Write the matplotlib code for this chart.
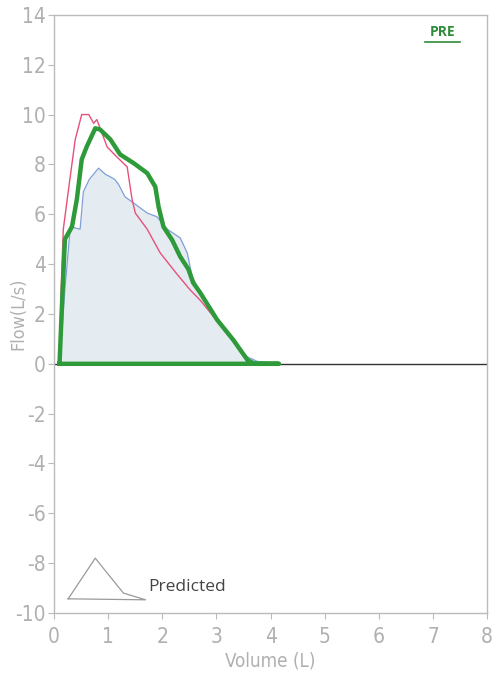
import matplotlib
matplotlib.use("Agg")
import matplotlib.pyplot as plt

plt.rcParams['axes.unicode_minus'] = False

# Predicted (blue thin, filled)
pred_vol  = [0.10, 0.20, 0.30, 0.48, 0.54, 0.65, 0.82, 0.95, 1.04, 1.12, 1.19, 1.31, 1.47, 1.72, 1.90, 2.09, 2.33, 2.46, 2.55, 2.70, 3.00, 3.30, 3.55, 3.75, 3.95, 4.10]
pred_flow = [0.00, 3.00, 5.50, 5.40, 6.90, 7.40, 7.85, 7.60, 7.50, 7.40, 7.20, 6.70, 6.45, 6.05, 5.90, 5.40, 5.05, 4.45, 3.50, 2.85, 1.80, 0.95, 0.30, 0.10, 0.05, 0.00]

# Trial 1 (pink/red thin)
red_vol  = [0.10, 0.13, 0.17, 0.26, 0.39, 0.51, 0.64, 0.73, 0.79, 0.98, 1.16, 1.35, 1.44, 1.50, 1.72, 1.96, 2.27, 2.52, 2.70, 3.00, 3.30, 3.60]
red_flow = [0.00, 3.00, 5.40, 6.90, 9.00, 10.00, 10.00, 9.65, 9.80, 8.70, 8.30, 7.90, 6.60, 6.05, 5.40, 4.45, 3.60, 2.95, 2.55, 1.75, 0.95, 0.00]

# Best trial (green thick)
grn_vol  = [0.10, 0.15, 0.20, 0.33, 0.42, 0.51, 0.60, 0.76, 0.85, 1.04, 1.22, 1.47, 1.72, 1.87, 1.93, 2.02, 2.18, 2.33, 2.48, 2.57, 2.70, 3.01, 3.31, 3.57, 3.70, 4.15, 0.10]
grn_flow = [0.00, 2.60, 5.00, 5.50, 6.60, 8.20, 8.70, 9.45, 9.40, 9.00, 8.40, 8.05, 7.65, 7.10, 6.30, 5.50, 4.97, 4.30, 3.80, 3.25, 2.85, 1.77, 0.96, 0.16, 0.00, 0.00, 0.00]

# Legend glyph (predicted shape)
leg_vol  = [0.26, 0.76, 1.28, 1.69, 0.26]
leg_flow = [-9.43, -7.80, -9.20, -9.47, -9.43]

x_ticks = [0, 1, 2, 3, 4, 5, 6, 7, 8]
y_ticks = [-10, -8, -6, -4, -2, 0, 2, 4, 6, 8, 10, 12, 14]

fig = plt.figure(figsize=(4.92, 6.77), dpi=100)
ax = fig.add_axes([0.110, 0.0945, 0.880, 0.8835])

ax.fill_between(pred_vol, pred_flow, 0, color='#e4ecf1', lw=0, zorder=1)
ax.plot(pred_vol, pred_flow, color='#7f9fd8', lw=0.9, zorder=2)
ax.plot(red_vol, red_flow, color='#e8507a', lw=1.0, zorder=3)
ax.axhline(0, color='#333333', lw=1.0, zorder=2)
ax.plot(grn_vol, grn_flow, color='#2e9a3a', lw=3.2, zorder=4, solid_joinstyle='round')

ax.plot(leg_vol, leg_flow, color='#9a9a9a', lw=0.9)
ax.text(1.74, -8.95, 'Predicted', fontsize=12.5, color='#444444', family='Open Sans', va='center', ha='left')

ax.text(7.18, 13.3, 'PRE', fontsize=10, color='#2e8b3a', fontweight='bold', family='Open Sans', ha='center', va='center')
ax.plot([6.85, 7.5], [12.92, 12.92], color='#2e8b3a', lw=1.2)

ax.set_xlim(0, 8)
ax.set_ylim(-10, 14)
ax.set_xticks(x_ticks)
ax.set_yticks(y_ticks)
for s in ax.spines.values():
    s.set_color('#bbbbbb')
    s.set_linewidth(1.0)
ax.tick_params(colors='#bbbbbb', labelcolor='#b0b0b0', labelsize=15, length=4, width=0.8)
ax.tick_params(axis='x', pad=6)
ax.tick_params(axis='y', pad=2)
for lab in ax.get_xticklabels() + ax.get_yticklabels():
    lab.set_fontstretch('condensed')
    lab.set_fontweight('light')
ax.set_xlabel('Volume (L)', fontsize=13.5, color='#b0b0b0', fontstretch='condensed', va='center')
ax.set_ylabel('Flow(L/s)', fontsize=13, color='#b0b0b0', fontstretch='condensed', va='center')
ax.xaxis.set_label_coords(0.5, -0.08)
ax.yaxis.set_label_coords(-0.083, 0.5)

fig.savefig('out.png', dpi=100)
